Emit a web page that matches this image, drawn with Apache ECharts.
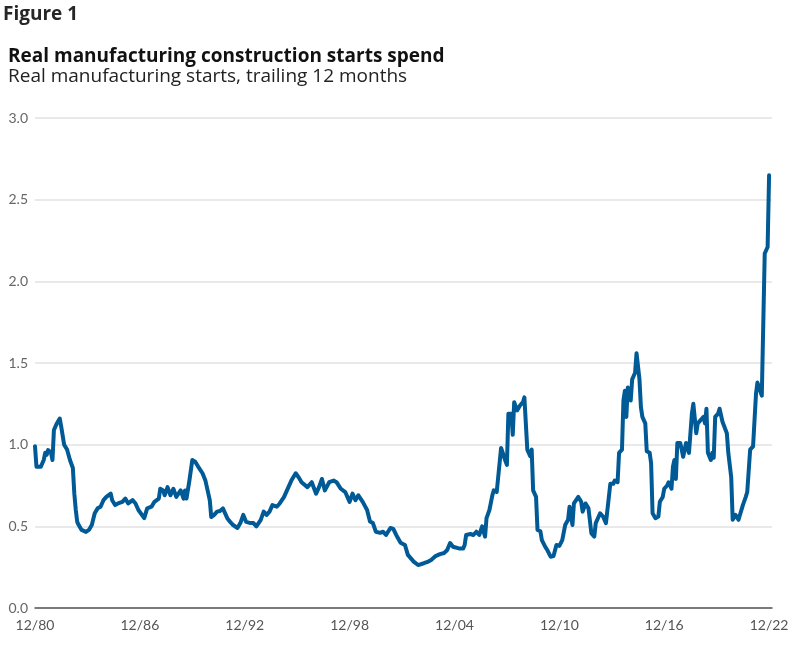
<!DOCTYPE html>
<html>
<head>
<meta charset="utf-8">
<script src="https://cdn.jsdelivr.net/npm/echarts@6/dist/echarts.min.js"></script>
<style>
  html, body { margin: 0; padding: 0; background: #ffffff; }
  #chart { width: 799px; height: 647px; }
</style>
</head>
<body>
<div id="chart"></div>
<script>
const figureLabel = 'Figure 1';
const chartTitle = 'Real manufacturing construction starts spend';
const chartSubtitle = 'Real manufacturing starts, trailing 12 months';

const yTicks = [0, 0.5, 1.0, 1.5, 2.0, 2.5, 3.0];
const xTickLabels = ['12/80', '12/86', '12/92', '12/98', '12/04', '12/10', '12/16', '12/22'];

const dates = [
  '1980-12','1981-01','1981-04','1981-06','1981-07','1981-08','1981-09','1981-11','1981-12',
  '1982-01','1982-03','1982-05','1982-06','1982-07','1982-08','1982-09','1982-10','1982-12',
  '1983-02','1983-03','1983-04','1983-05','1983-06','1983-08','1983-11',
  '1984-01','1984-03','1984-05','1984-07','1984-09','1984-11',
  '1985-01','1985-04','1985-05','1985-07','1985-09','1985-12',
  '1986-02','1986-04','1986-07','1986-09','1986-11',
  '1987-03','1987-04','1987-05','1987-08','1987-10',
  '1988-01','1988-02','1988-04','1988-05','1988-07','1988-09','1988-11',
  '1989-01','1989-04','1989-06','1989-07','1989-08','1989-10','1989-12',
  '1990-02','1990-04','1990-07','1990-09','1990-11','1990-12',
  '1991-01','1991-03','1991-05','1991-07','1991-09','1991-11','1991-12',
  '1992-02','1992-04','1992-07','1992-09','1992-11',
  '1993-01','1993-04','1993-06','1993-08','1993-11',
  '1994-01','1994-03','1994-05','1994-07','1994-10','1994-12',
  '1995-03','1995-05','1995-08','1995-11',
  '1996-01','1996-03','1996-07','1996-10',
  '1997-01','1997-03','1997-05','1997-07','1997-10',
  '1998-01','1998-03','1998-06','1998-09','1998-12',
  '1999-02','1999-04','1999-06','1999-09','1999-12',
  '2000-02','2000-04','2000-06','2000-09','2000-11',
  '2001-01','2001-04','2001-06','2001-08','2001-11',
  '2002-02','2002-04','2002-08','2002-11',
  '2003-03','2003-06','2003-08','2003-11',
  '2004-02','2004-05','2004-07','2004-09','2004-11',
  '2005-03','2005-06','2005-07','2005-08','2005-11',
  '2006-01','2006-03','2006-05','2006-07','2006-08','2006-09','2006-10','2006-12',
  '2007-02','2007-03','2007-05','2007-06','2007-07','2007-08','2007-09','2007-11','2007-12',
  '2008-01','2008-03','2008-04','2008-05','2008-07','2008-09','2008-11','2008-12',
  '2009-02','2009-04','2009-05','2009-06','2009-08','2009-09','2009-11','2009-12',
  '2010-02','2010-04','2010-06','2010-08','2010-10','2010-12',
  '2011-02','2011-04','2011-06','2011-07','2011-09','2011-10',
  '2012-01','2012-03','2012-04','2012-06','2012-08','2012-09','2012-10','2012-12',
  '2013-01','2013-04','2013-06','2013-08','2013-09','2013-11',
  '2014-01','2014-02','2014-04','2014-05','2014-07','2014-08','2014-09','2014-10','2014-11','2014-12',
  '2015-01','2015-02','2015-04','2015-05','2015-06','2015-07','2015-08','2015-09','2015-11','2015-12',
  '2016-02','2016-03','2016-04','2016-06','2016-08','2016-09','2016-11','2016-12',
  '2017-02','2017-03','2017-05','2017-06','2017-07','2017-08','2017-09','2017-11','2017-12',
  '2018-01','2018-03','2018-04','2018-05','2018-07','2018-08','2018-09','2018-10','2018-11',
  '2019-01','2019-03','2019-04','2019-05','2019-06','2019-08','2019-09','2019-10','2019-11',
  '2020-01','2020-02','2020-04','2020-05','2020-07','2020-08','2020-10','2020-11',
  '2021-01','2021-03','2021-04','2021-06','2021-08','2021-09','2021-11',
  '2022-01','2022-02','2022-03','2022-04','2022-05','2022-07','2022-09','2022-10','2022-11','2022-12'
];

const values = [
  0.99,0.865,0.865,0.906,0.95,0.937,0.967,0.95,0.906,
  1.09,1.13,1.16,1.11,1.11,1.00,1.01,0.97,0.906,
  0.857,0.70,0.60,0.527,0.508,0.478,0.466,
  0.478,0.508,0.58,0.61,0.62,0.66,
  0.68,0.70,0.66,0.63,0.64,0.65,
  0.67,0.64,0.66,0.64,0.60,
  0.55,0.557,0.61,0.62,0.65,
  0.67,0.73,0.72,0.69,0.74,0.69,0.73,
  0.68,0.72,0.67,0.72,0.67,0.78,0.906,
  0.896,0.866,0.825,0.78,0.70,0.66,
  0.557,0.57,0.59,0.594,0.61,0.57,0.55,
  0.527,0.508,0.49,0.52,0.57,
  0.527,0.52,0.52,0.50,0.54,
  0.59,0.57,0.59,0.63,0.62,0.64,
  0.68,0.72,0.78,0.825,
  0.80,0.77,0.74,0.77,
  0.70,0.74,0.79,0.72,0.77,
  0.78,0.77,0.73,0.71,0.65,
  0.70,0.66,0.69,0.65,0.60,
  0.53,0.52,0.467,0.46,0.467,
  0.447,0.49,0.484,0.447,0.40,
  0.386,0.325,0.284,0.263,
  0.274,0.284,0.294,0.318,
  0.33,0.337,0.355,0.398,0.375,
  0.365,0.365,0.386,0.447,0.453,
  0.447,0.467,0.447,0.50,0.508,0.437,0.55,0.60,
  0.69,0.72,0.71,0.80,0.81,0.98,0.97,0.90,0.876,
  1.19,1.19,1.06,1.26,1.21,1.24,1.26,1.29,
  0.97,0.93,0.97,0.72,0.68,0.478,0.47,0.416,
  0.38,0.35,0.314,0.318,0.386,0.38,
  0.416,0.508,0.54,0.62,0.508,0.64,
  0.68,0.65,0.59,0.64,0.61,0.61,0.457,0.437,
  0.52,0.58,0.56,0.52,0.52,0.76,
  0.76,0.78,0.77,0.95,0.97,1.27,1.33,1.17,1.35,1.33,
  1.27,1.40,1.44,1.56,1.56,1.40,1.23,1.17,1.13,0.96,
  0.95,0.886,0.58,0.55,0.56,0.65,0.68,0.73,
  0.75,0.77,0.73,0.865,0.906,0.79,1.01,1.01,0.97,
  0.926,1.01,1.02,0.95,1.19,1.25,1.26,1.07,1.13,
  1.15,1.17,1.13,1.22,0.95,0.906,0.95,0.92,1.17,
  1.19,1.22,1.14,1.13,1.07,0.95,0.80,0.54,
  0.57,0.54,0.55,0.63,0.68,0.71,0.97,
  0.99,0.99,1.31,1.38,1.39,1.30,2.17,2.19,2.21,2.65
];

// months since December 1980 for each date
function monthIndex(d) {
  const [y, m] = d.split('-').map(Number);
  return (y - 1980) * 12 + (m - 12);
}
const seriesData = dates.map((d, i) => [monthIndex(d), values[i]]);

const FONT = 'Lato, "Open Sans", sans-serif';
const TFONT = '"Open Sans", "Noto Sans", sans-serif';

const chart = echarts.init(document.getElementById('chart'), null, { renderer: 'canvas' });
chart.setOption({
  animation: false,
  backgroundColor: '#ffffff',
  title: [
    { text: figureLabel, left: 3, top: 5, padding: 0,
      textStyle: { fontFamily: TFONT, fontSize: 19, fontWeight: 'bold', color: '#262626' } },
    { text: chartTitle, left: 8, top: 47, padding: 0,
      textStyle: { fontFamily: TFONT, fontSize: 19, fontWeight: 'bold', color: '#111111' } },
    { text: chartSubtitle, left: 8, top: 67, padding: 0,
      textStyle: { fontFamily: TFONT, fontSize: 19, fontWeight: 'normal', color: '#222222' } }
  ],
  grid: { left: 35, right: 27, top: 118, bottom: 39, containLabel: false },
  xAxis: {
    type: 'value',
    min: 0,
    max: 506,
    interval: 72,
    axisLine: { show: true, lineStyle: { color: '#555555', width: 1.5 } },
    axisTick: { show: false },
    splitLine: { show: false },
    axisLabel: {
      margin: 10,
      fontFamily: FONT, fontSize: 14, color: '#555555',
      formatter: function (v) {
        if (v % 72 !== 0) return '';
        return xTickLabels[v / 72] || '';
      }
    }
  },
  yAxis: {
    type: 'value',
    min: yTicks[0],
    max: yTicks[yTicks.length - 1],
    interval: 0.5,
    axisLine: { show: false },
    axisTick: { show: false },
    splitLine: { show: true, lineStyle: { color: '#e2e2e2', width: 1.5 } },
    axisLabel: {
      margin: 7,
      fontFamily: FONT, fontSize: 14, color: '#666666',
      padding: [0, 0, 4, 0],
      formatter: function (v) { return v.toFixed(1); }
    }
  },
  series: [{
    type: 'line',
    data: seriesData,
    showSymbol: false,
    symbol: 'none',
    lineStyle: { color: '#005a96', width: 4, join: 'round', cap: 'round' },
    z: 3
  }]
});
</script>
</body>
</html>
